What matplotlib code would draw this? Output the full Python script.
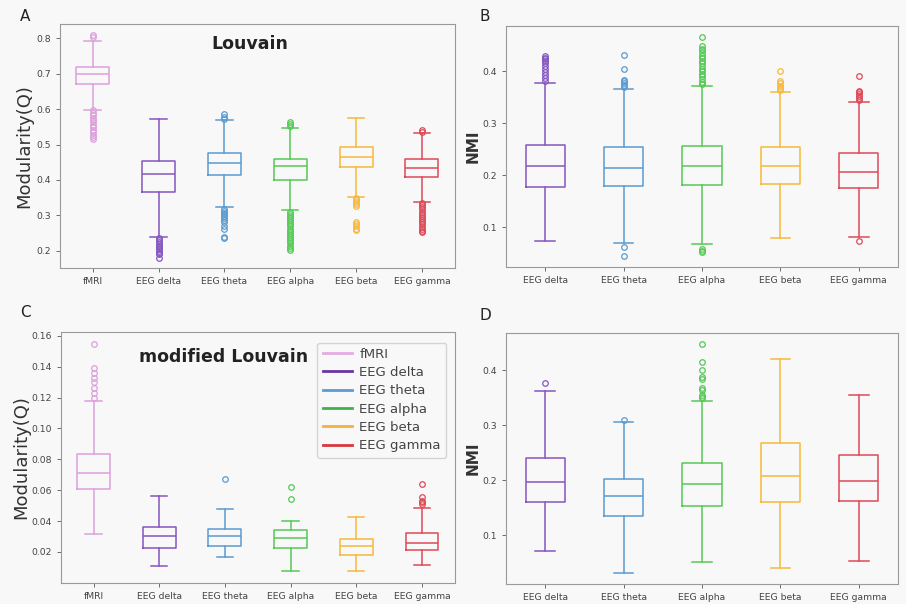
import matplotlib
matplotlib.use('Agg')
import matplotlib.pyplot as plt
from matplotlib.lines import Line2D

# --- DATA ---
LABELS_Q = ['fMRI', 'EEG delta', 'EEG theta', 'EEG alpha', 'EEG beta', 'EEG gamma']
LABELS_NMI = ['EEG delta', 'EEG theta', 'EEG alpha', 'EEG beta', 'EEG gamma']

# Panel A: Louvain modularity
A_med = [0.699, 0.417, 0.449, 0.439, 0.464, 0.435]
A_q1 = [0.671, 0.367, 0.415, 0.400, 0.436, 0.409]
A_q3 = [0.720, 0.453, 0.476, 0.459, 0.494, 0.459]
A_lo = [0.599, 0.239, 0.323, 0.315, 0.353, 0.339]
A_hi = [0.792, 0.571, 0.568, 0.548, 0.574, 0.532]
A_fliers = [
    [0.810, 0.805, 0.597, 0.590, 0.583, 0.576, 0.570, 0.563, 0.556, 0.549, 0.542, 0.535, 0.528, 0.521, 0.517],
    [0.235, 0.230, 0.225, 0.220, 0.215, 0.210, 0.205, 0.200, 0.195, 0.190, 0.181],
    [0.585, 0.578, 0.572, 0.318, 0.313, 0.308, 0.303, 0.298, 0.293, 0.287, 0.280, 0.270, 0.262, 0.240, 0.235],
    [0.563, 0.558, 0.552, 0.311, 0.305, 0.299, 0.293, 0.287, 0.281, 0.275, 0.269, 0.263, 0.257, 0.251,
     0.245, 0.239, 0.233, 0.227, 0.221, 0.215, 0.209, 0.202],
    [0.348, 0.343, 0.338, 0.333, 0.327, 0.282, 0.276, 0.270, 0.263, 0.259],
    [0.541, 0.536, 0.334, 0.329, 0.323, 0.317, 0.311, 0.305, 0.299, 0.293, 0.287, 0.281, 0.275,
     0.268, 0.262, 0.256, 0.252],
]

# Panel B: Louvain NMI
B_med = [0.218, 0.215, 0.218, 0.218, 0.207]
B_q1 = [0.178, 0.179, 0.181, 0.184, 0.176]
B_q3 = [0.258, 0.255, 0.257, 0.255, 0.242]
B_lo = [0.074, 0.070, 0.068, 0.079, 0.081]
B_hi = [0.378, 0.366, 0.371, 0.361, 0.341]
B_fliers = [
    [0.382, 0.387, 0.392, 0.398, 0.404, 0.410, 0.415, 0.419, 0.423, 0.426, 0.429],
    [0.370, 0.374, 0.378, 0.381, 0.384, 0.404, 0.432, 0.063, 0.045],
    [0.375, 0.380, 0.385, 0.390, 0.395, 0.400, 0.405, 0.410, 0.415, 0.420, 0.425, 0.430,
     0.435, 0.440, 0.443, 0.448, 0.466, 0.058, 0.055, 0.053],
    [0.364, 0.368, 0.372, 0.377, 0.381, 0.401],
    [0.345, 0.349, 0.353, 0.357, 0.360, 0.362, 0.390, 0.073],
]

# Panel C: modified Louvain modularity
C_med = [0.0713, 0.0303, 0.0301, 0.0288, 0.0241, 0.0258]
C_q1 = [0.0607, 0.0228, 0.0235, 0.0224, 0.0181, 0.0215]
C_q3 = [0.0833, 0.0364, 0.0347, 0.0340, 0.0282, 0.0323]
C_lo = [0.0316, 0.0107, 0.0166, 0.0079, 0.0073, 0.0112]
C_hi = [0.1178, 0.0560, 0.0478, 0.0402, 0.0424, 0.0487]
C_fliers = [
    [0.120, 0.123, 0.126, 0.130, 0.133, 0.136, 0.139, 0.155],
    [],
    [0.0672],
    [0.0618, 0.0543],
    [],
    [0.0510, 0.0521, 0.0530, 0.0553, 0.0640],
]

# Panel D: modified Louvain NMI
D_med = [0.197, 0.171, 0.193, 0.208, 0.198]
D_q1 = [0.160, 0.135, 0.153, 0.161, 0.163]
D_q3 = [0.241, 0.203, 0.231, 0.267, 0.245]
D_lo = [0.072, 0.032, 0.052, 0.041, 0.054]
D_hi = [0.362, 0.306, 0.343, 0.421, 0.354]
D_fliers = [
    [0.377],
    [0.309],
    [0.350, 0.352, 0.355, 0.364, 0.367, 0.384, 0.387, 0.401, 0.414, 0.447],
    [],
    [],
]

COLORS = {
    'fMRI': '#dda0dd',
    'EEG delta': '#8456c0',
    'EEG theta': '#5b9bd0',
    'EEG alpha': '#55c955',
    'EEG beta': '#f6b93b',
    'EEG gamma': '#dc4a58',
}
LEGEND_COLORS = {
    'fMRI': '#e3ace3',
    'EEG delta': '#6a35a5',
    'EEG theta': '#5b9bd5',
    'EEG alpha': '#3cb44b',
    'EEG beta': '#f5b041',
    'EEG gamma': '#d9363e',
}
BG = '#f8f8f8'


def draw_boxes(ax, labels, med, q1, q3, lo, hi, fliers):
    """Draw one coloured box per category from the summary statistics."""
    for i, lab in enumerate(labels):
        stats = [{'med': med[i], 'q1': q1[i], 'q3': q3[i], 'whislo': lo[i],
                  'whishi': hi[i], 'fliers': fliers[i], 'label': lab}]
        c = COLORS[lab]
        ax.bxp(stats, positions=[i + 1], widths=0.5,
               boxprops=dict(color=c, lw=1.1),
               medianprops=dict(color=c, lw=1.1),
               whiskerprops=dict(color=c, lw=1.1),
               capprops=dict(color=c, lw=1.1),
               flierprops=dict(marker='o', markersize=4, markerfacecolor='none',
                               markeredgecolor=c, markeredgewidth=0.9))
    ax.set_xlim(0.5, len(labels) + 0.5)
    ax.set_xticks(range(1, len(labels) + 1))
    ax.set_xticklabels(labels)
    ax.set_facecolor(BG)
    for sp in ax.spines.values():
        sp.set_color('#9a9a9a')
    ax.tick_params(labelsize=6.7, colors='#555555', length=3, width=0.6)
    for t in ax.get_xticklabels() + ax.get_yticklabels():
        t.set_color('#444444')


fig = plt.figure(figsize=(9.06, 6.04), dpi=100, facecolor=BG)

axA = fig.add_axes([0.066, 0.556, 0.436, 0.404])
axB = fig.add_axes([0.5585, 0.558, 0.4327, 0.399])
axC = fig.add_axes([0.067, 0.035, 0.435, 0.415])
axD = fig.add_axes([0.5585, 0.033, 0.4327, 0.416])

draw_boxes(axA, LABELS_Q, A_med, A_q1, A_q3, A_lo, A_hi, A_fliers)
axA.set_ylim(0.151, 0.840)
axA.set_yticks([0.2, 0.3, 0.4, 0.5, 0.6, 0.7, 0.8])
axA.set_ylabel('Modularity(Q)', fontsize=13, color='#333333', labelpad=2)
axA.text(0.48, 0.92, 'Louvain', transform=axA.transAxes, ha='center', va='center',
         fontsize=12.5, fontweight='bold', color='#222222')

draw_boxes(axB, LABELS_NMI, B_med, B_q1, B_q3, B_lo, B_hi, B_fliers)
axB.set_yticks([0.1, 0.2, 0.3, 0.4])
axB.set_ylabel('NMI', fontsize=11, fontweight='bold', color='#333333', labelpad=1)

draw_boxes(axC, LABELS_Q, C_med, C_q1, C_q3, C_lo, C_hi, C_fliers)
axC.set_yticks([0.02, 0.04, 0.06, 0.08, 0.10, 0.12, 0.14, 0.16])
axC.set_yticklabels(['0.02', '0.04', '0.06', '0.08', '0.10', '0.12', '0.14', '0.16'])
axC.set_ylabel('Modularity(Q)', fontsize=13, color='#333333', labelpad=1)
axC.text(0.414, 0.90, 'modified Louvain', transform=axC.transAxes, ha='center', va='center',
         fontsize=12.5, fontweight='bold', color='#222222')
handles = [Line2D([0], [0], color=LEGEND_COLORS[lab], lw=2) for lab in LABELS_Q]
leg = axC.legend(handles, LABELS_Q, loc='upper right', fontsize=9.5, frameon=True,
                 handlelength=2.2, handletextpad=0.6, labelspacing=0.4, borderpad=0.4,
                 bbox_to_anchor=(0.995, 0.985))
leg.get_frame().set_facecolor(BG)
leg.get_frame().set_edgecolor('#cccccc')
for t in leg.get_texts():
    t.set_color('#444444')

draw_boxes(axD, LABELS_NMI, D_med, D_q1, D_q3, D_lo, D_hi, D_fliers)
axD.set_yticks([0.1, 0.2, 0.3, 0.4])
axD.set_ylabel('NMI', fontsize=11, fontweight='bold', color='#333333', labelpad=1)

# panel letters
fig.text(0.022, 0.973, 'A', fontsize=11, va='center', color='#222222')
fig.text(0.529, 0.973, 'B', fontsize=11, va='center', color='#222222')
fig.text(0.022, 0.482, 'C', fontsize=11, va='center', color='#222222')
fig.text(0.529, 0.477, 'D', fontsize=11, va='center', color='#222222')

fig.savefig('out.png', dpi=100, facecolor=BG)
